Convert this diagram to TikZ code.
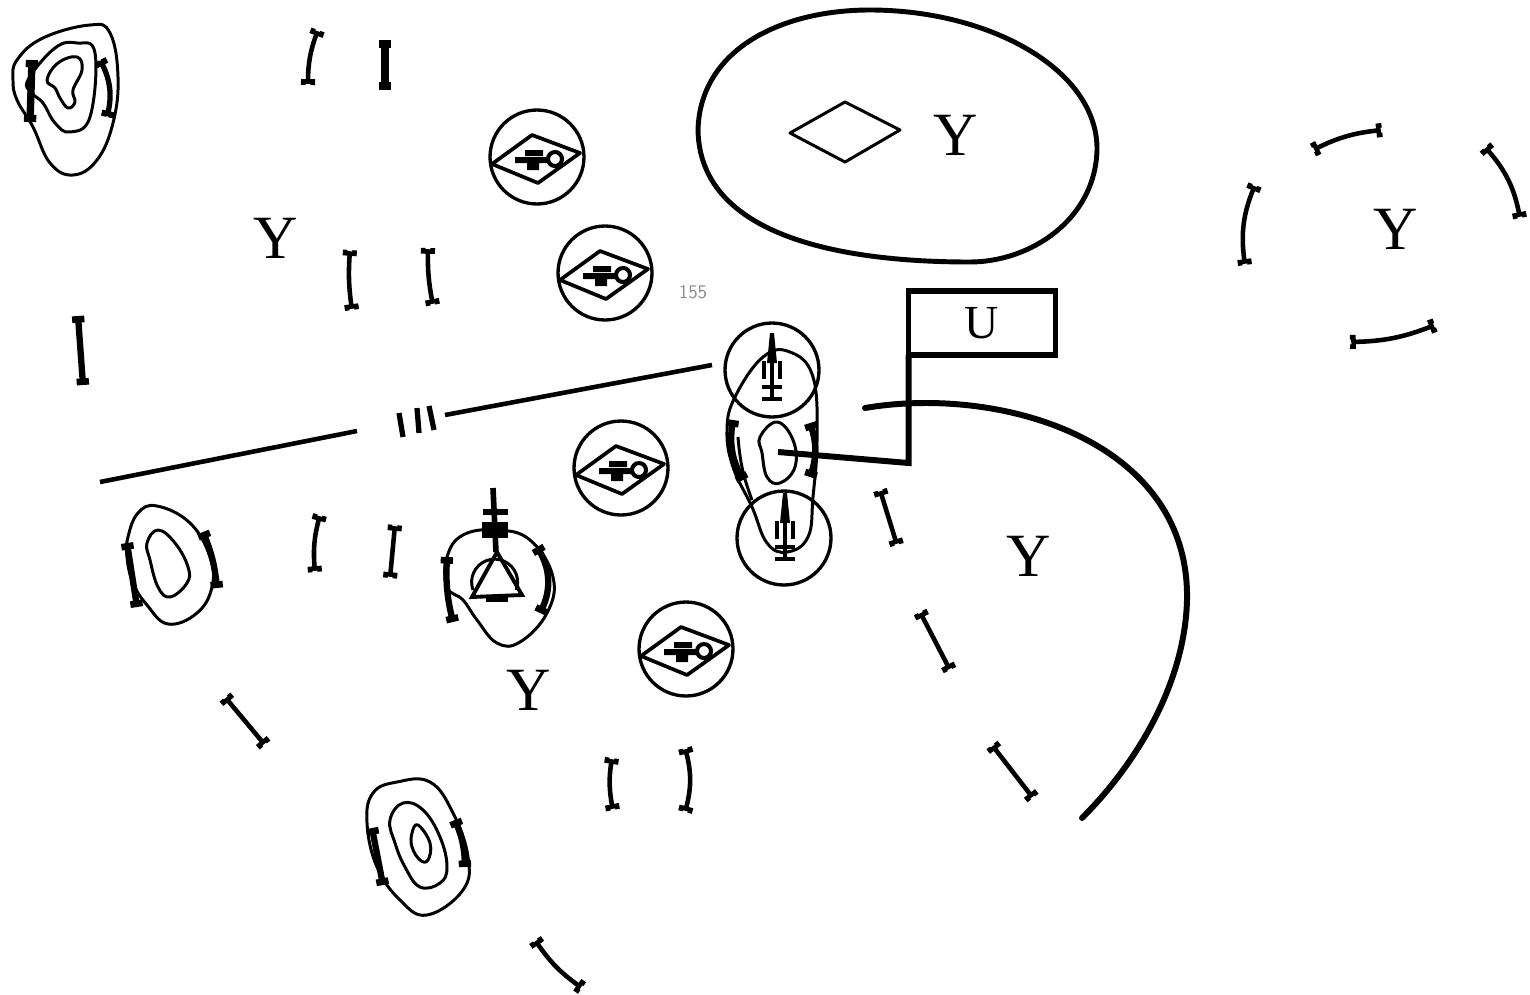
\documentclass[tikz,border=0pt]{standalone}
\usepackage{fontspec}
\setmainfont{Liberation Serif}
\usetikzlibrary{arrows.meta}
\tikzset{
  outline/.style={line width=1.7pt,line join=round},
  heavy/.style={line width=3.4pt,line cap=round},
  tickbar/.style={line width=2.6pt,{Tee Barb[width=8pt,length=2pt,inset=0pt]}-{Tee Barb[width=8pt,length=2pt,inset=0pt]}},
  ovalbar/.style={line width=3.6pt,{Tee Barb[width=7pt,length=2pt,inset=0pt]}-{Tee Barb[width=7pt,length=2pt,inset=0pt]}},
  bigletter/.style={inner sep=0pt,font=\fontsize{35}{37}\selectfont},
  pics/sightglyph/.style={code={
    \node[circle,draw,line width=1.9pt,inner sep=0pt,minimum size=1.88cm] (-ring) at (0,0) {};
    \draw[line width=2.1pt,line join=round] (-45,7) -- (-5,-22) -- (43,-4) -- (1,26) -- cycle;
    \fill (-12,-7) rectangle (6,-1) (-22,0) rectangle (10,6) (-10,6) rectangle (2,13);
    \draw[line width=2.3pt] (18,2) circle (.14cm);
  }},
  pics/spindle/.style={code={
    \fill (-2,-38) -- (2,-38) -- (5,-8) -- (-5,-8) -- cycle;
    \draw[line width=2.4pt] (0,-10) -- (0,26);
    \draw[line width=2.4pt] (-10,16) -- (10,16) (-10,28) -- (10,28);
    \draw[line width=2pt] (-8,-10) -- (-8,8) (8,-10) -- (8,8);
  }},
}
\begin{document}
\begin{tikzpicture}[x=.02cm,y=-.02cm]
\useasboundingbox (0,0) rectangle (1530,994);

% top left
\draw[outline] plot[smooth cycle,tension=.7] coordinates {(13,80) (17,60) (43,38) (90,25) (110,33) (118,77) (113,123) (97,160) (73,175) (50,163) (33,127) (17,100)};
\draw[outline] plot[smooth cycle,tension=.7] coordinates {(28,80) (55,48) (77,43) (95,53) (90,117) (70,132) (55,123) (43,103) (32,93)};
\draw[outline] plot[smooth cycle,tension=.7] coordinates {(47,80) (58,63) (77,57) (82,70) (73,90) (75,102) (68,108) (60,98) (55,88)};
\draw[ovalbar,line width=4.2pt] (32,60) -- (30,122);
\draw[ovalbar,line width=3pt] (100,60) to[bend left=20] (107,117);

% lower left oval
\draw[outline] plot[smooth cycle,tension=.7] coordinates {(128,537) (138,513) (157,506) (190,523) (210,557) (212,587) (197,613) (168,624) (147,605) (133,583) (127,557)};
\draw[outline] plot[smooth cycle,tension=.7] coordinates {(147,543) (158,530) (175,543) (188,567) (187,583) (170,597) (158,587) (150,560)};
\draw[ovalbar] (127,543) -- (137,607);
\draw[ovalbar] (203,532) to[bend left=8] (217,588);

% triangle element
\draw[outline] plot[smooth cycle,tension=.7] coordinates {(447,557) (463,535) (497,530) (530,540) (553,577) (547,613) (520,642) (497,643) (477,620) (463,600) (447,587)};
\draw[outline] (473,590) arc[start angle=200,end angle=-20,radius=.46cm];
\draw[line width=2.2pt] (497,552) -- (472,597) -- (522,595) -- cycle;
\draw[line width=3pt] (486,599) -- (508,599);
\draw[line width=3.2pt] (493,488) -- (496,552);
\draw[line width=3.6pt] (483,512) -- (508,512);
\fill (482,522) rectangle (508,538);
\draw[ovalbar] (447,557) to[bend right=8] (453,622);
\draw[ovalbar] (537,547) to[bend left=28] (540,613);

% bottom oval
\draw[outline] plot[smooth cycle,tension=.7] coordinates {(367,823) (373,793) (397,782) (430,782) (453,813) (468,857) (463,890) (427,915) (400,900) (377,867)};
\draw[outline] plot[smooth cycle,tension=.7] coordinates {(390,820) (403,803) (423,810) (440,837) (447,867) (440,883) (420,887) (405,867) (395,843)};
\draw[outline] plot[smooth cycle,tension=.7] coordinates {(412,833) (418,825) (430,843) (428,860) (420,860) (412,847)};
\draw[ovalbar] (372,828) -- (383,885);
\draw[ovalbar] (455,820) to[bend left=10] (465,867);

% loose bars
\foreach \xa/\ya/\xb/\yb/\bendby in {318/30/308/85/-10,350/250/352/310/-6,428/248/433/305/-6,
  320/515/315/572/-10,395/525/390/578/0,225/697/265/745/0,612/758/613/810/-10,685/748/685/812/15,
  535/940/582/988/-10,880/490/897/545/0,920/612/950/670/0,992/745/1033/798/0,
  1313/150/1382/130/10,1485/147/1520/218/15,1255/185/1245/265/-15,1350/342/1435/325/-10}
  \draw[tickbar] (\xa,\ya) to[bend left=\bendby] (\xb,\yb);
\draw[ovalbar,line width=4.4pt] (385,40) -- (385,90);
\draw[ovalbar] (78,316) -- (83,385);

% sights
\pic (sightA) at (537,157) {sightglyph};
\pic (sightB) at (605,273) {sightglyph};
\pic (sightC) at (621,468) {sightglyph};
\pic (sightD) at (686,649) {sightglyph};

% centre column
\node[circle,draw,line width=1.9pt,inner sep=0pt,minimum size=1.88cm] (ringTop) at (772,370) {};
\node[circle,draw,line width=1.9pt,inner sep=0pt,minimum size=1.88cm] (ringBottom) at (784,538) {};
\pic at (772,371) {spindle};
\pic at (785,531) {spindle};
\draw[outline] plot[smooth cycle,tension=.7] coordinates {(735,397) (763,357) (790,352) (813,377) (817,440) (813,497) (808,537) (787,552) (767,543) (752,507) (733,467) (727,430)};
\draw[outline] plot[smooth cycle,tension=.7] coordinates {(760,437) (777,422) (793,440) (795,467) (780,483) (767,477) (762,453)};
\draw[outline] (738,437) to[bend right=8] (752,500);
\draw[ovalbar] (733,420) to[bend right=18] (743,480);
\draw[ovalbar] (810,423) to[bend left=18] (810,477);

% box and wire
\node[draw,line width=3.2pt,inner sep=0pt,outer sep=0pt,minimum width=2.94cm,minimum height=1.28cm,font=\fontsize{27}{29}\selectfont] (boxU) at (982,323) {U};
\coordinate (ovalC) at (778,452);
\coordinate (wireLevel) at (900,463);
\coordinate (wireBend) at (boxU.south west |- wireLevel);
\draw[heavy,line cap=butt,line join=miter] (ovalC) -- (wireBend) -- (boxU.south west);

% big arc
\draw[heavy] (865,408) .. controls (1000,385) and (1190,440) .. (1187,600) .. controls (1185,680) and (1140,760) .. (1082,818);

% top blob
\draw[line width=2.8pt] (698,130) .. controls (700,50) and (780,10) .. (870,10) .. controls (990,10) and (1098,70) .. (1097,150) .. controls (1095,220) and (1030,262) .. (970,262) .. controls (880,262) and (700,250) .. (698,130) -- cycle;
\draw[outline] (790,133) -- (845,102) -- (900,130) -- (845,162) -- cycle;

% long line
\coordinate (lineStart) at (100,482);
\coordinate (gapLeft) at (357,431);
\coordinate (gapRight) at (445,415);
\coordinate (lineEnd) at (712,365);
\draw[line width=2.6pt] (lineStart) -- (gapLeft) (gapRight) -- (lineEnd);
\draw[line width=3pt] (399,413) -- (403,437) (417,408) -- (419,433) (429,406) -- (434,430);

% letters
\node[bigletter] (letterA) at (276,238) {Y};
\node[bigletter] (letterB) at (956,135) {Y};
\node[bigletter] (letterC) at (1396,229) {Y};
\node[bigletter] (letterD) at (1029,556) {Y};
\node[bigletter] (letterE) at (529,690) {Y};
\node[inner sep=0pt,text=black!45,font=\sffamily\fontsize{11}{12}\selectfont] (pageNo) at (693,292) {155};
\end{tikzpicture}
\end{document}
